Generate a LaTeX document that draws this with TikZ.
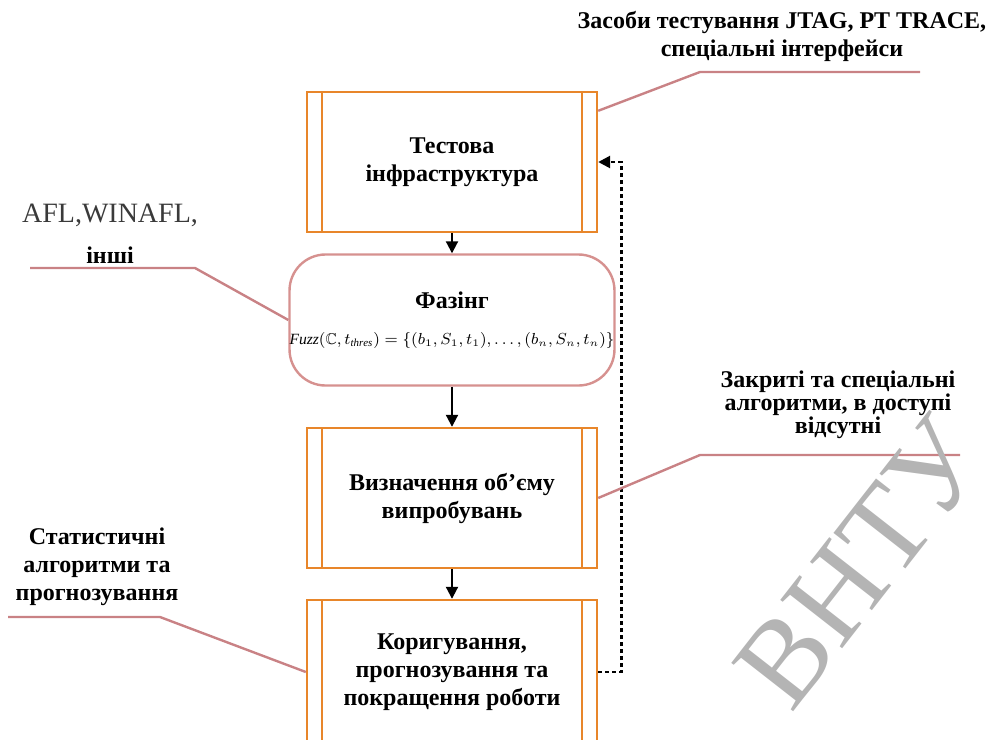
\documentclass[tikz,border=0pt]{standalone}
\usepackage{fontspec}
\usepackage{amssymb}
\setmainfont{Liberation Serif}
\usetikzlibrary{arrows.meta, calc}
\definecolor{corange}{HTML}{E8862A}
\definecolor{cpink}{HTML}{D6918F}
\definecolor{cline}{HTML}{C98285}
\definecolor{cgrey}{HTML}{B4B4B4}
\definecolor{ctext}{HTML}{3A3A3A}
\tikzset{
  every picture/.style={font=\bfseries\fontsize{12}{14}\selectfont, line width=1pt},
  procbox/.style={draw=corange, line width=1.2pt, minimum width=145pt, minimum height=70pt, align=center, inner sep=0pt,
    path picture={\draw[corange, line width=1.2pt]
      ([xshift=7.5pt]path picture bounding box.north west) -- ([xshift=7.5pt]path picture bounding box.south west)
      ([xshift=-7.5pt]path picture bounding box.north east) -- ([xshift=-7.5pt]path picture bounding box.south east);}},
  fuzzbox/.style={draw=cpink, line width=1.2pt, rounded corners=18pt, minimum width=161pt, minimum height=65.5pt, align=center, inner sep=0pt},
  arrow/.style={-{Triangle[length=6pt, width=6pt]}, draw=black, line width=1pt},
  feedback/.style={arrow, line width=1.3pt, dash pattern=on 2pt off 1.5pt},
  callout/.style={draw=cline, line width=1.2pt},
  lbl/.style={align=center, font=\bfseries\fontsize{12}{14}\selectfont},
}

\begin{document}
\begin{tikzpicture}[x=0.5pt, y=-0.5pt]
  \useasboundingbox (0,0) rectangle (1003,740);
  % main chain
  \node[procbox] (infra) at (452,162) {Тестова\\інфраструктура};
  \node[fuzzbox] (fuzz) at (452,320) {Фазінг\\[4pt]
    {\normalfont\fontsize{7.8}{9}\selectfont $\mathit{Fuzz}(\mathbb{C},t_{\mathit{thres}})=\{(b_1,S_1,t_1),\dots,(b_n,S_n,t_n)\}$}};
  \node[procbox] (volume) at (452,498) {Визначення об’єму\\випробувань};
  \node[procbox, minimum height=72pt] (tune) at (452,672) {Коригування,\\прогнозування та\\покращення роботи};
  \draw[arrow] (infra) -- (fuzz);
  \draw[arrow] (fuzz) -- (volume);
  \draw[arrow] (volume) -- (tune);
  \draw[feedback] (tune.east) -- ++(23,0) |- (infra.east);
  % side labels
  \node[lbl] (tools) at (782,36) {Засоби тестування JTAG, PT TRACE,\\спеціальні інтерфейси};
  \node[font=\normalfont\fontsize{14}{16}\selectfont, text=ctext] (afl) at (110,215) {AFL,WINAFL,};
  \node[lbl] (other) at (110,255) {інші};
  \node[lbl, font=\bfseries\fontsize{12}{11.5}\selectfont] (closed) at (838,405) {Закриті та спеціальні\\алгоритми, в доступі\\відсутні};
  \node[lbl] (stat) at (97,567) {Статистичні\\алгоритми та\\прогнозування};
  % callout lines
  \coordinate (k1) at (700,72);   \coordinate (e1) at (920,72);
  \coordinate (k2) at (195,268);  \coordinate (e2) at (30,268);
  \coordinate (k3) at (700,455);  \coordinate (e3) at (960,455);
  \coordinate (k4) at (160,617);  \coordinate (e4) at (8,617);
  \draw[callout] ($(infra.north east)+(0,20)$) -- (k1) -- (e1);
  \draw[callout] (fuzz.west) -- (k2) -- (e2);
  \draw[callout] (volume.east) -- (k3) -- (e3);
  \draw[callout] (tune.west) -- (k4) -- (e4);
  % watermark
  \node[font=\normalfont\fontsize{60}{60}\selectfont, text=cgrey, rotate=52] (mark) at (861,563) {ВНТУ};
\end{tikzpicture}
\end{document}
